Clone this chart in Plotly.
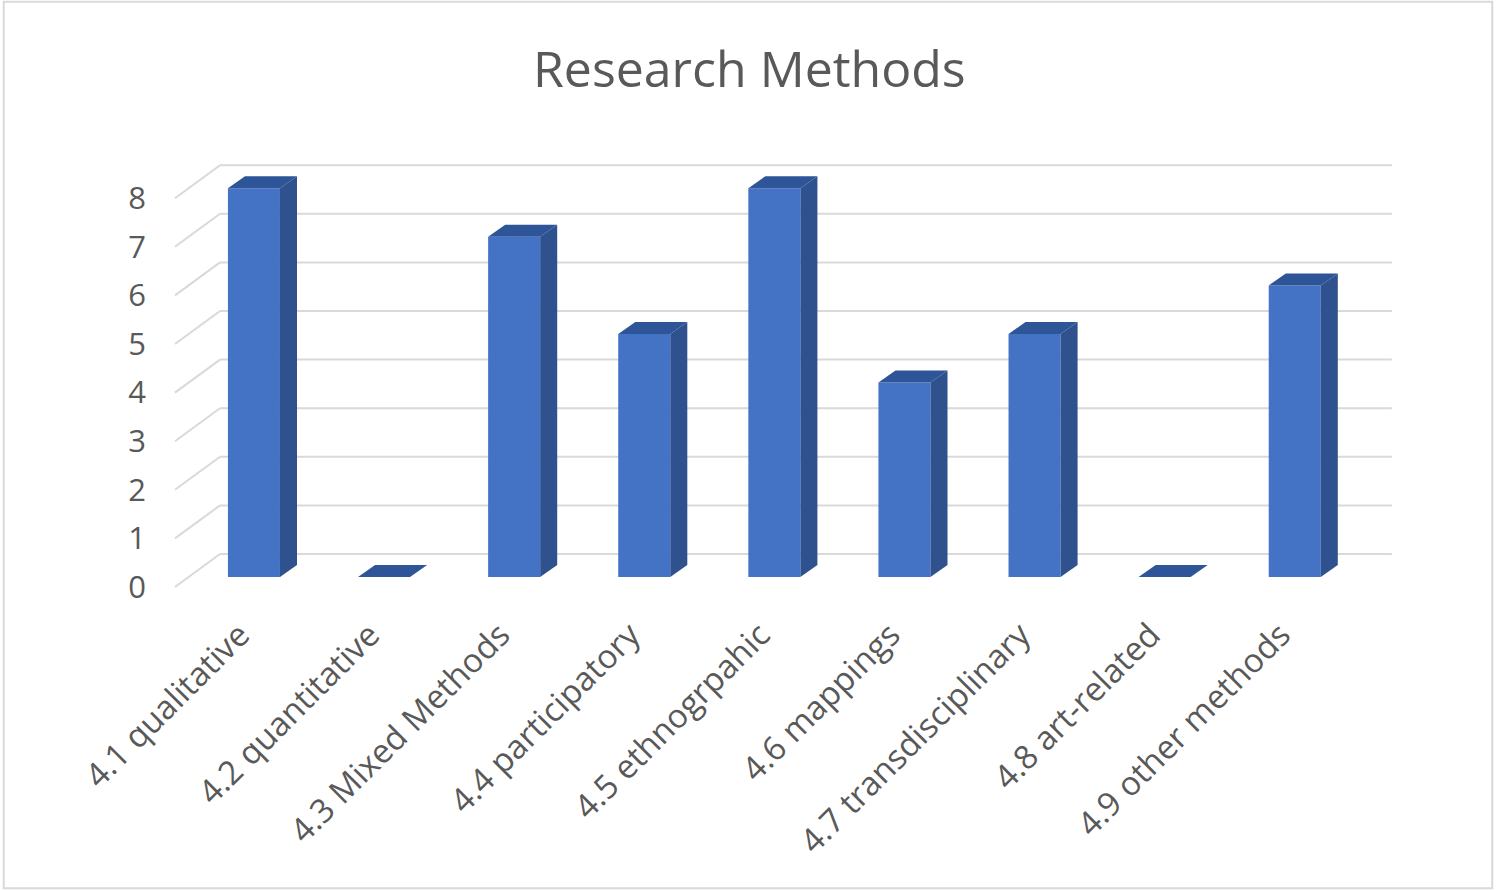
import plotly.graph_objects as go

# ---- data ----
categories = [
    "4.1 qualitative",
    "4.2 quantitative",
    "4.3 Mixed Methods",
    "4.4 participatory",
    "4.5 ethnogrpahic",
    "4.6 mappings",
    "4.7 transdisciplinary",
    "4.8 art-related",
    "4.9 other methods",
]
counts = [8, 0, 7, 5, 8, 4, 5, 0, 6]
y_ticks = [0, 1, 2, 3, 4, 5, 6, 7, 8]

# ---- styling ----
W, H = 1496, 891
FONT = "'Open Sans', Lato, sans-serif"
TEXT = "#595959"
GRID = "#d9d9d9"
FRONT = "#4472c4"
SIDE = "#2f528f"
TOP = "#2e5597"

BAR_W = 0.4          # bar width in category units
DEPTH_X = 0.131      # oblique depth of each bar (x units)
DEPTH_Y = 0.247      # oblique depth of each bar (value units)
WALL_DY = 0.473      # back wall offset in value units
FRONT_DY = -0.206    # front edge offset in value units
WALL_LEFT_FRONT = -0.607
WALL_LEFT_BACK = -0.261
WALL_RIGHT_BACK = 8.747

X_RANGE = [-1.952, 9.547]
Y_RANGE = [-0.473, 8.992]
Y_DOMAIN = [0.3266, 0.8429]

idx = list(range(len(categories)))

fig = go.Figure()

# front faces of the bars
fig.add_trace(go.Bar(
    x=idx, y=counts, width=BAR_W,
    marker=dict(color=FRONT, line=dict(width=0)),
    hoverinfo="x+y", showlegend=False,
))

shapes = []

# back wall gridlines and the left side wall diagonals
for v in y_ticks:
    shapes.append(dict(
        type="line", xref="x", yref="y", layer="below",
        x0=WALL_LEFT_BACK, x1=WALL_RIGHT_BACK, y0=v + WALL_DY, y1=v + WALL_DY,
        line=dict(color=GRID, width=2),
    ))
    shapes.append(dict(
        type="line", xref="x", yref="y", layer="below",
        x0=WALL_LEFT_FRONT, x1=WALL_LEFT_BACK, y0=v + FRONT_DY, y1=v + WALL_DY,
        line=dict(color=GRID, width=2),
    ))

# top and side faces that give the bars their depth
for i, v in zip(idx, counts):
    l, r = i - BAR_W / 2, i + BAR_W / 2
    top = (f"M {l},{v} L {r},{v} L {r + DEPTH_X},{v + DEPTH_Y} "
           f"L {l + DEPTH_X},{v + DEPTH_Y} Z")
    shapes.append(dict(type="path", xref="x", yref="y", path=top,
                       fillcolor=TOP, line=dict(width=0), layer="above"))
    if v > 0:
        side = (f"M {r},0 L {r},{v} L {r + DEPTH_X},{v + DEPTH_Y} "
                f"L {r + DEPTH_X},{DEPTH_Y} Z")
        shapes.append(dict(type="path", xref="x", yref="y", path=side,
                           fillcolor=SIDE, line=dict(width=0), layer="above"))

# chart border
shapes.append(dict(
    type="rect", xref="paper", yref="paper",
    x0=0.0025, x1=0.9975, y0=0.003, y1=0.998,
    line=dict(color=GRID, width=2), fillcolor="rgba(0,0,0,0)", layer="below",
))

fig.update_layout(
    width=W, height=H,
    margin=dict(l=0, r=0, t=0, b=0),
    paper_bgcolor="white",
    plot_bgcolor="white",
    shapes=shapes,
    showlegend=False,
    xaxis=dict(
        domain=[0, 1], range=X_RANGE,
        tickvals=idx, ticktext=categories, tickangle=-45,
        tickfont=dict(family=FONT, size=33, color=TEXT),
        showgrid=False, zeroline=False, showline=False, ticks="",
        ticklabelstandoff=8, ticklabelshift=-14,
        automargin=False, fixedrange=True,
    ),
    yaxis=dict(
        domain=Y_DOMAIN, range=Y_RANGE,
        showgrid=False, zeroline=False, showline=False,
        showticklabels=False, ticks="", automargin=False, fixedrange=True,
    ),
    # value labels sit on the front edge of the side wall
    yaxis2=dict(
        overlaying="y", anchor="free", position=0.0975, side="left",
        range=[Y_RANGE[0] - FRONT_DY, Y_RANGE[1] - FRONT_DY],
        tickvals=y_ticks, ticktext=[str(t) for t in y_ticks],
        tickfont=dict(family=FONT, size=31, color=TEXT),
        showgrid=False, zeroline=False, showline=False, ticks="",
        automargin=False, fixedrange=True,
    ),
    annotations=[dict(
        text="Research Methods", x=0.5013, y=(H - 68) / H,
        xref="paper", yref="paper", xanchor="center", yanchor="middle",
        showarrow=False, font=dict(family=FONT, size=50, color=TEXT),
    )],
)

# invisible trace to activate the secondary value axis
fig.add_trace(go.Scatter(x=[idx[0]], y=[y_ticks[0]], yaxis="y2",
                         mode="markers", marker=dict(opacity=0),
                         hoverinfo="skip", showlegend=False))

fig.write_html("out.html")
